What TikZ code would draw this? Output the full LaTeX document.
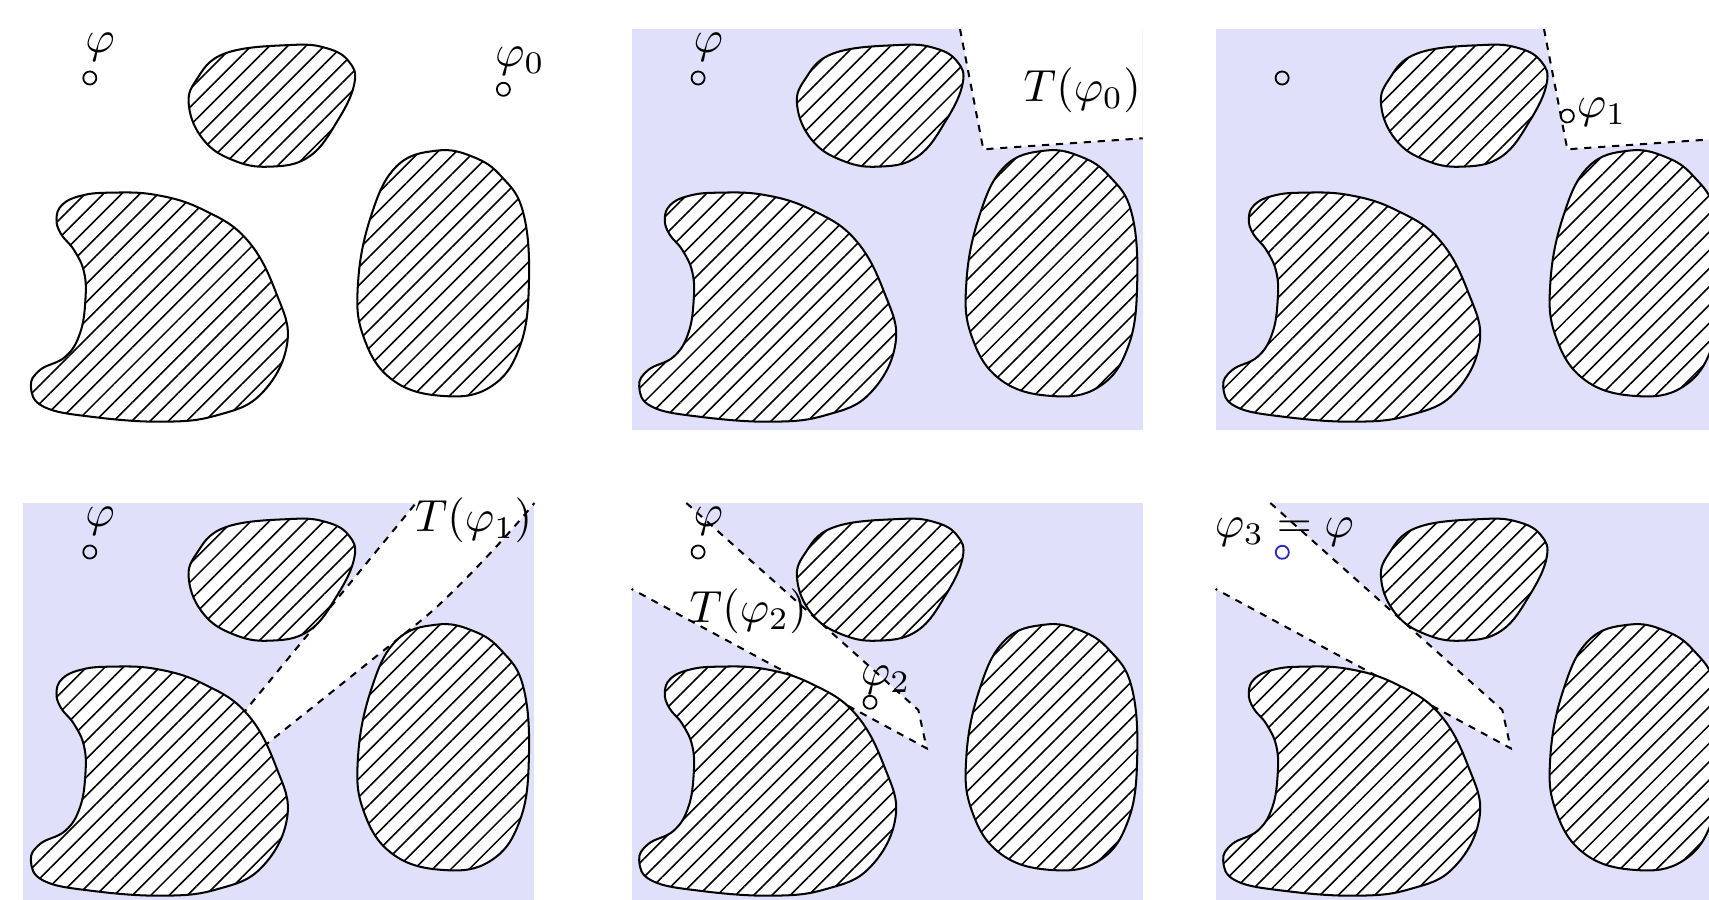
\documentclass[tikz,border=0pt]{standalone}
\usetikzlibrary{patterns.meta}
\definecolor{bgc}{RGB}{224,224,250}
\definecolor{ptblue}{RGB}{40,40,190}
\tikzset{
  blob/.style={draw=black, line width=0.45pt, preaction={fill=white},
    pattern={Lines[angle=45,distance=2.87pt,line width=0.35pt]}},
  bgpanel/.style={fill=bgc},
  freeregion/.style={fill=white},
  bound/.style={draw=black, line width=0.45pt, dash pattern=on 1.6pt off 1.5pt},
  pt/.style={circle, draw=black, line width=0.4pt, minimum size=2.9pt, inner sep=0pt},
  lab/.style={anchor=base, inner sep=0pt},
}
\newcommand\obstacles{%
  \path[blob] plot[smooth cycle, tension=0.7] coordinates {(290.8,45) (327,48.3) (349,61.7) (354.4,83.3) (338,120) (309,156.7) (269,166.7) (232.6,160) (203.6,140) (189,106.7) (196.3,80) (225.4,53.3)};
  \path[blob] plot[smooth cycle, tension=0.7] coordinates {(109,192.7) (156.3,195) (203.6,210) (247.2,240) (276.3,293.3) (287.2,343.3) (261.7,393.3) (218,415) (163.6,421.7) (90.9,416.7) (43.6,406.7) (30.9,386.7) (40,370) (65.4,356.7) (80,333.3) (85.4,300) (84,272) (74,250) (61,234) (56.5,219) (62,205) (80,196)};
  \path[blob] plot[smooth cycle, tension=0.7] coordinates {(436.2,150.7) (472.6,156.7) (501.6,176.7) (523.4,213.3) (528.9,283.3) (519.8,346.7) (490.7,386.7) (443.5,396) (392.6,380) (363.5,336.7) (358,283.3) (370.8,216.7) (396.2,166.7)};
}
\newcommand\panelbg{\fill[bgpanel] (23.3,29) rectangle (534.4,430);}
\newcommand\tzeroregion{%
  \coordinate (ta) at (351.7,29);
  \coordinate (tb) at (375,149.3);
  \coordinate (tc) at (534.4,138.3);
  \coordinate (td) at (534.4,29);
  \fill[freeregion] (ta) -- (tb) -- (tc) -- (td) -- cycle;
  \draw[bound] (ta) -- (tb) -- (tc);
}
\newcommand\ttworegion{%
  \coordinate (sa) at (23.3,29);
  \coordinate (sb) at (78,29);
  \coordinate (sc) at (310,236);
  \coordinate (sd) at (318.4,274.3);
  \coordinate (se) at (23.3,115);
  \fill[freeregion] (sa) -- (sb) -- (sc) -- (sd) -- (se) -- cycle;
  \draw[bound] (sb) -- (sc) -- (sd) -- (se);
}
\begin{document}
\begin{tikzpicture}[x=0.2222pt, y=-0.2222pt]
\useasboundingbox (0,0) rectangle (1709,900);
% ---------- panel 1 ----------
\begin{scope}
  \obstacles
  \node[pt] (a1) at (89.8,78) {};
  \node[lab] (a1l) at (100,53) {$\varphi$};
  \node[pt] (a2) at (503.4,89.3) {};
  \node[lab] (a2l) at (520,66.4) {$\varphi_0$};
\end{scope}
% ---------- panel 2 ----------
\begin{scope}[shift={(608.3,0)}]
  \panelbg
  \tzeroregion
  \obstacles
  \node[pt] (b1) at (89.8,78) {};
  \node[lab] (b1l) at (100,53) {$\varphi$};
  \node[lab] (b2l) at (474,102) {$T(\varphi_0)$};
\end{scope}
% ---------- panel 3 ----------
\begin{scope}[shift={(1192.3,0)}]
  \panelbg
  \tzeroregion
  \obstacles
  \node[pt] (c1) at (89.8,78) {};
  \node[pt] (c2) at (375,116) {};
  \node[lab] (c2l) at (409.5,118) {$\varphi_1$};
\end{scope}
% ---------- panel 4 ----------
\begin{scope}[shift={(0,474)}]
  \panelbg
  \coordinate (ua) at (241.7,241);
  \coordinate (ub) at (416,29);
  \coordinate (uc) at (534.4,29);
  \coordinate (ud) at (420,147.4);
  \coordinate (ue) at (263.3,272.7);
  \fill[freeregion] (ua) -- (ub) -- (uc) .. controls (505,65) and (450,123.4) .. (ud) -- (ue) -- cycle;
  \draw[bound] (ua) -- (ub);
  \draw[bound] (ue) -- (ud) .. controls (450,123.4) and (505,65) .. (uc);
  \obstacles
  \node[pt] (d1) at (89.8,78) {};
  \node[lab] (d1l) at (100,53) {$\varphi$};
  \node[lab] (d2l) at (473.5,58) {$T(\varphi_1)$};
\end{scope}
% ---------- panel 5 ----------
\begin{scope}[shift={(608.3,474)}]
  \panelbg
  \ttworegion
  \obstacles
  \node[pt] (e1) at (89.8,78) {};
  \node[lab] (e1l) at (100,53) {$\varphi$};
  \node[pt] (e2) at (261.7,228.3) {};
  \node[lab] (e2l) at (277.5,212) {$\varphi_2$};
  \node[lab] (e3l) at (140,149) {$T(\varphi_2)$};
\end{scope}
% ---------- panel 6 ----------
\begin{scope}[shift={(1192.3,474)}]
  \panelbg
  \ttworegion
  \obstacles
  \node[pt, draw=ptblue] (f1) at (90,78.3) {};
  \node[lab] (f1l) at (92,64) {$\varphi_3 = \varphi$};
\end{scope}
\end{tikzpicture}
\end{document}
